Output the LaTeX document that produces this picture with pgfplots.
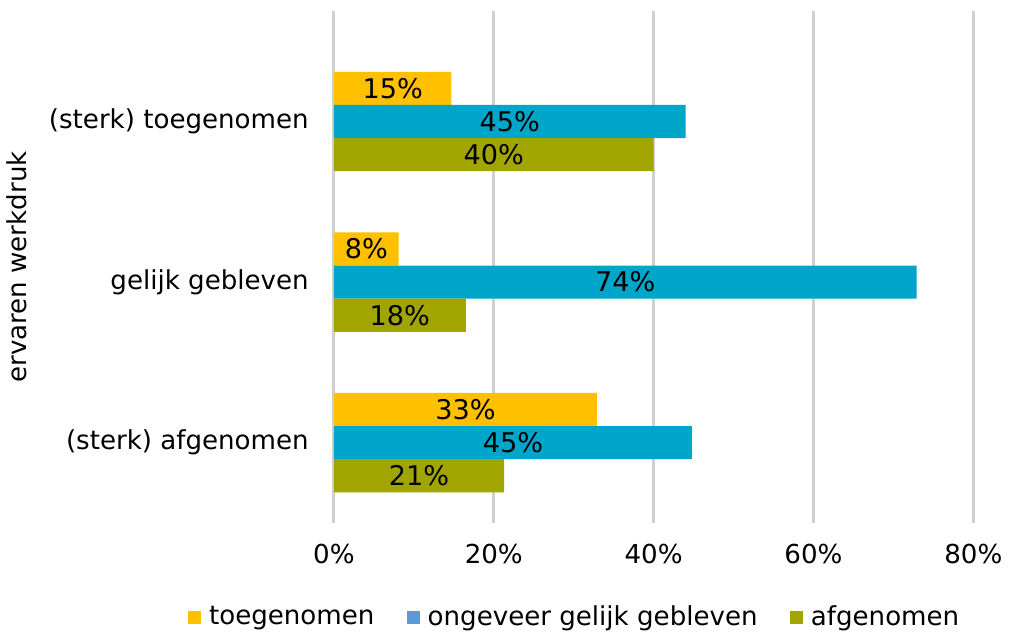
\documentclass[border=0pt]{standalone}
\usepackage{fontspec}
\setmainfont{DejaVu Sans}
\usepackage{pgfplots}
\pgfplotsset{compat=1.18}
\definecolor{cyel}{HTML}{FFC000}
\definecolor{cteal}{HTML}{00A6C9}
\definecolor{colive}{HTML}{A2A500}
\definecolor{cblue}{HTML}{5B9BD5}
\definecolor{cgrid}{HTML}{D0D0D0}

\begin{document}
\begin{tikzpicture}
\begin{axis}[
    scale only axis,
    width=318.5pt, height=255pt,
    xbar, bar width=16.5pt,
    xmin=0, xmax=80,
    ymin=-0.5, ymax=2.6875,
    xtick={0,20,40,60,80},
    xticklabels={0\%,20\%,40\%,60\%,80\%},
    ytick={0,1,2},
    yticklabels={(sterk) afgenomen, gelijk gebleven, (sterk) toegenomen},
    ylabel={ervaren werkdruk},
    every axis y label/.style={at={(axis description cs:-0.496,0.5)}, rotate=90, anchor=center},
    label style={font=\fontsize{13}{15}\selectfont},
    ticklabel style={font=\fontsize{13}{15}\selectfont},
    yticklabel style={xshift=-9pt},
    xticklabel style={yshift=-7pt},
    axis line style={draw=none},
    major tick length=0pt,
    xmajorgrids,
    grid style={cgrid, line width=1.5pt},
    nodes near coords,
    point meta=explicit symbolic,
    visualization depends on={rawx \as \rawx},
    every node near coord/.append style={anchor=center, black,
        font=\fontsize{13.5}{15}\selectfont,
        shift={(axis direction cs:-\rawx/2,0)}},
    legend image code/.code={\fill[#1] (0pt,-3.25pt) rectangle (6.5pt,3.25pt);},
    legend style={at={(0.378,-0.184)}, anchor=center, draw=none,
        font=\fontsize{13}{15}\selectfont,
        /tikz/every odd column/.append style={column sep=2pt},
        /tikz/every even column/.append style={column sep=14pt}},
    legend columns=3,
]
% toegenomen
\addplot[fill=cyel, draw=none, bar shift=16.5pt, forget plot] coordinates {
    (32.9,0) [33\%]
    (8.1,1)  [8\%]
    (14.7,2) [15\%]
};
% ongeveer gelijk gebleven
\addplot[fill=cteal, draw=none, bar shift=0pt, forget plot] coordinates {
    (44.8,0) [45\%]
    (72.9,1) [74\%]
    (44.0,2) [45\%]
};
% afgenomen
\addplot[fill=colive, draw=none, bar shift=-16.5pt, forget plot] coordinates {
    (21.3,0) [21\%]
    (16.5,1) [18\%]
    (40.0,2) [40\%]
};
\addlegendimage{fill=cyel, draw=none}
\addlegendentry{toegenomen}
\addlegendimage{fill=cblue, draw=none}
\addlegendentry{ongeveer gelijk gebleven}
\addlegendimage{fill=colive, draw=none}
\addlegendentry{afgenomen}
\end{axis}
\path (0,260.5pt);
\end{tikzpicture}
\end{document}
